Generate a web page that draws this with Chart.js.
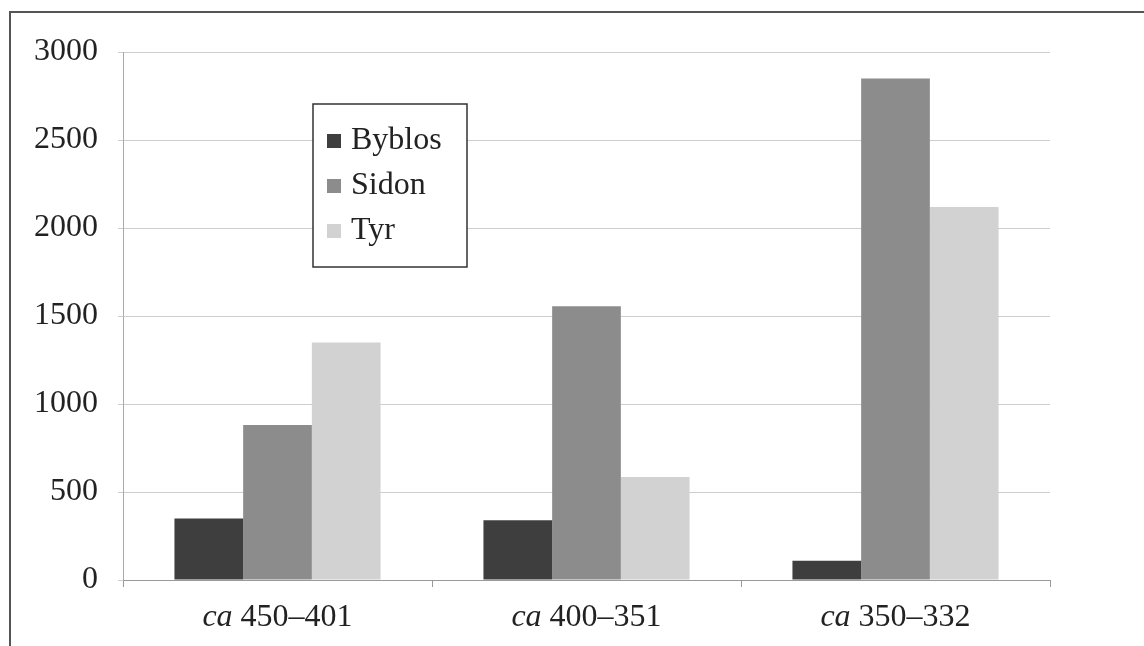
<!DOCTYPE html>
<html>
<head>
<meta charset="utf-8">
<script src="https://cdn.jsdelivr.net/npm/chart.js@4"></script>
<style>
  html, body { margin: 0; padding: 0; background: #fff; overflow: hidden; }
  #wrap { position: relative; width: 1144px; height: 646px; overflow: hidden; }
  #frame { position: absolute; left: 9px; top: 11px; width: 1200px; height: 660px;
           border-left: 2px solid #555; border-top: 2px solid #555; }
  canvas { position: absolute; left: 0; top: 0; }
</style>
</head>
<body>
<div id="wrap">
  <div id="frame"></div>
  <canvas id="grafico" width="1144" height="646"></canvas>
</div>
<script>
// Dados
const prefixos = ['ca', 'ca', 'ca'];
const periodos = ['450–401', '400–351', '350–332'];
const byblos = [350, 340, 110];
const sidon = [880, 1555, 2850];
const tyr = [1350, 585, 2120];
const ticksY = [0, 500, 1000, 1500, 2000, 2500, 3000];

const fonte = '"Liberation Serif", "DejaVu Serif", serif';

// Rótulos do eixo x com "ca" em itálico
const rotulosX = {
    id: 'rotulosX',
    afterDraw(chart) {
        const ctx = chart.ctx;
        const x = chart.scales.x;
        ctx.save();
        ctx.fillStyle = '#222';
        ctx.textBaseline = 'middle';
        ctx.textAlign = 'left';
        periodos.forEach((p, i) => {
            const cx = x.getPixelForValue(i);
            ctx.font = 'italic 32px ' + fonte;
            const w1 = ctx.measureText(prefixos[i] + ' ').width;
            ctx.font = '32px ' + fonte;
            const w2 = ctx.measureText(p).width;
            const sx = cx - (w1 + w2) / 2;
            ctx.font = 'italic 32px ' + fonte;
            ctx.fillText(prefixos[i] + ' ', sx, 618);
            ctx.font = '32px ' + fonte;
            ctx.fillText(p, sx + w1, 618);
        });
        ctx.restore();
    }
};

// Legenda desenhada dentro da área do gráfico
const legendaCaixa = {
    id: 'legendaCaixa',
    afterDraw(chart) {
        const ctx = chart.ctx;
        ctx.save();
        ctx.fillStyle = '#fff';
        ctx.fillRect(313, 104, 154, 163);
        ctx.strokeStyle = '#333';
        ctx.lineWidth = 1.5;
        ctx.strokeRect(313, 104, 154, 163);
        ctx.font = '32px ' + fonte;
        ctx.textBaseline = 'middle';
        ctx.textAlign = 'left';
        chart.data.datasets.forEach((ds, i) => {
            const y = 141 + i * 45;
            ctx.fillStyle = ds.backgroundColor;
            ctx.fillRect(327, y - 7, 14, 14);
            ctx.fillStyle = '#222';
            ctx.fillText(ds.label, 351, y);
        });
        ctx.restore();
    }
};

new Chart(document.getElementById('grafico').getContext('2d'), {
    type: 'bar',
    data: {
        labels: periodos.map((p, i) => prefixos[i] + ' ' + p),
        datasets: [
            { label: 'Byblos', data: byblos, backgroundColor: '#3e3e3e' },
            { label: 'Sidon', data: sidon, backgroundColor: '#8c8c8c' },
            { label: 'Tyr', data: tyr, backgroundColor: '#d2d2d2' }
        ]
    },
    options: {
        responsive: false,
        animation: false,
        layout: { padding: { top: 52, right: 94, left: 0, bottom: 0 } },
        plugins: {
            legend: { display: false },
            tooltip: { enabled: false }
        },
        datasets: {
            bar: { categoryPercentage: 0.667, barPercentage: 1.0 }
        },
        scales: {
            x: {
                grid: { offset: true, drawOnChartArea: false, color: '#999', tickLength: 7 },
                border: { color: '#999', width: 1 },
                ticks: { color: 'rgba(0,0,0,0)', font: { family: fonte, size: 32 } },
                afterFit(scale) { scale.height = 66; }
            },
            y: {
                min: 0,
                max: 3000,
                afterBuildTicks(scale) { scale.ticks = ticksY.map(v => ({ value: v })); },
                grid: { color: '#cdcdcd', tickLength: 5 },
                border: { color: '#aaa', width: 1 },
                ticks: {
                    color: '#222',
                    padding: 20,
                    font: { family: fonte, size: 32 },
                    callback: (v) => String(v)
                },
                afterFit(scale) { scale.width = 123; }
            }
        }
    },
    plugins: [rotulosX, legendaCaixa]
});
</script>
</body>
</html>
